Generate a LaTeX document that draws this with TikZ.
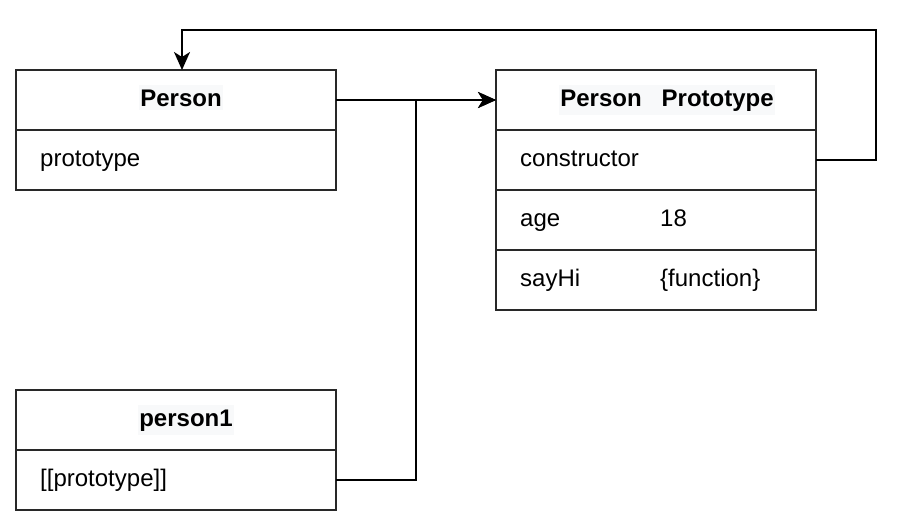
\documentclass[tikz,border=0pt]{standalone}
\usepackage{fontspec}
\setmainfont{Liberation Sans}
\usetikzlibrary{arrows.meta}
\definecolor{titlebg}{RGB}{248,249,250}
\definecolor{boxline}{RGB}{40,40,40}
\tikzset{
  cell/.style={draw=boxline, line width=2pt, minimum width=320pt, minimum height=60pt, inner sep=0pt, outer sep=0pt},
  ttl/.style={font=\fontsize{24}{28}\selectfont\bfseries, fill=titlebg, inner xsep=1pt, inner ysep=4pt, anchor=base},
  txt/.style={font=\fontsize{24}{28}\selectfont, inner sep=0pt, anchor=base west},
  conn/.style={line width=2pt, black},
  tip/.style={-{Stealth[length=18pt 0 0, width=16pt 0, inset=5pt 0]}}
}
\begin{document}
\begin{tikzpicture}[x=1pt, y=-1pt]
\useasboundingbox (0,0) rectangle (910,528);
% Person
\node[cell] (P) at (176,100) {};
\node[cell] (Pr) at (176,160) {};
\node[ttl] (Pt) at (181,106) {Person};
\node[txt] (Prt) at (40,166) {prototype};
% Person Prototype
\node[cell] (PP) at (656,100) {};
\node[cell] (PPc) at (656,160) {};
\node[cell] (PPa) at (656,220) {};
\node[cell] (PPs) at (656,280) {};
\node[ttl] (PPt) at (667,106) {Person\hspace{20pt}Prototype};
\node[txt] (PPct) at (520,166) {constructor};
\node[txt] (PPat) at (520,226) {age};
\node[txt] (PPav) at (660,226) {18};
\node[txt] (PPst) at (520,286) {sayHi};
\node[txt] (PPsv) at (660,286) {\{function\}};
% person1
\node[cell] (p1) at (176,420) {};
\node[cell] (p1r) at (176,480) {};
\node[ttl] (p1t) at (186,426) {person1};
\node[txt] (p1rt) at (40,486) {[[prototype]]};
% connectors
\coordinate (j) at (416,100);
\coordinate (c1) at (876,160);
\coordinate (c2) at (876,30);
\coordinate (c3) at (182,30);
\coordinate (c4) at (182,70);
\draw[conn, tip] (P.east) -- (PP.west);
\draw[conn, tip] (p1r.east) -| (j) -- (PP.west);
\draw[conn, tip] (PPc.east) -- (c1) -- (c2) -- (c3) -- (c4);
\end{tikzpicture}
\end{document}
